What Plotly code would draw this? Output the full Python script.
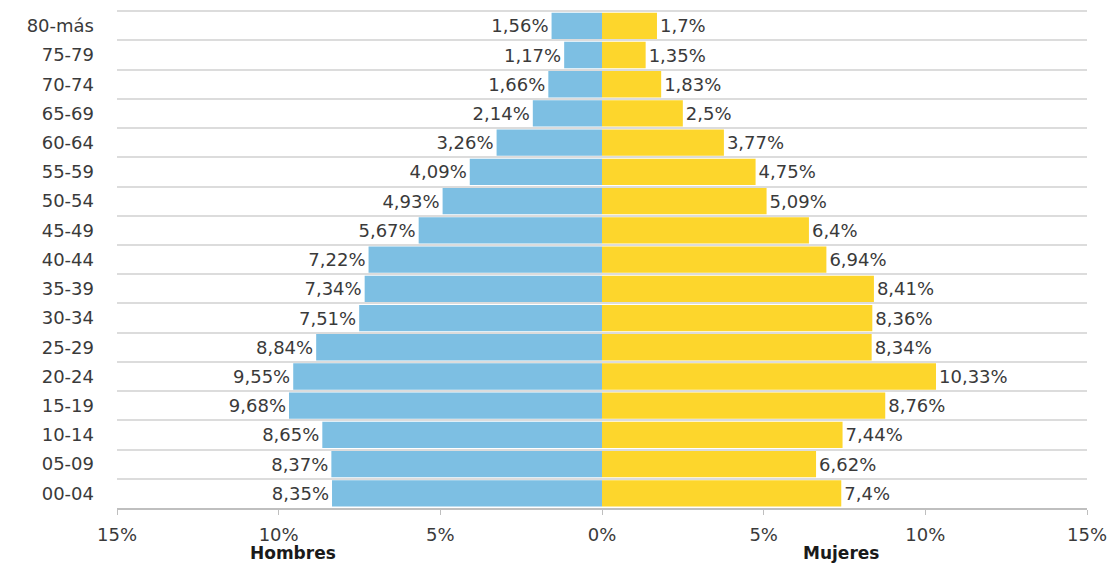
import plotly.graph_objects as go

categories = ["00-04", "05-09", "10-14", "15-19", "20-24", "25-29", "30-34", "35-39",
              "40-44", "45-49", "50-54", "55-59", "60-64", "65-69", "70-74", "75-79", "80-más"]
hombres = [8.35, 8.37, 8.65, 9.68, 9.55, 8.84, 7.51, 7.34, 7.22, 5.67, 4.93, 4.09, 3.26, 2.14, 1.66, 1.17, 1.56]
mujeres = [7.4, 6.62, 7.44, 8.76, 10.33, 8.34, 8.36, 8.41, 6.94, 6.4, 5.09, 4.75, 3.77, 2.5, 1.83, 1.35, 1.7]
x_ticks = [-15, -10, -5, 0, 5, 10, 15]
x_tick_labels = ["15%", "10%", "5%", "0%", "5%", "10%", "15%"]


def fmt(v):
    return (("%g" % v).replace(".", ",")) + "%"


FONT = "DejaVu Sans, Verdana, sans-serif"
TXT = "#3a3a3a"
FS = 18

fig = go.Figure()
fig.add_trace(go.Bar(
    y=categories, x=[-v for v in hombres], orientation="h", name="Hombres",
    marker=dict(color="#7dbfe3", line=dict(width=0)),
    text=[fmt(v) for v in hombres], textposition="outside", cliponaxis=False,
    constraintext="none",
    textfont=dict(family=FONT, size=FS, color=TXT),
))
fig.add_trace(go.Bar(
    y=categories, x=mujeres, orientation="h", name="Mujeres",
    marker=dict(color="#fdd62c", line=dict(width=0)),
    text=[fmt(v) for v in mujeres], textposition="outside", cliponaxis=False,
    constraintext="none",
    textfont=dict(family=FONT, size=FS, color=TXT),
))

# page body has an 8px default margin: size the figure to compensate
fig.update_layout(
    width=1109, height=555,
    margin=dict(l=109, r=30, t=2, b=55),
    barmode="relative", bargap=0.1,
    showlegend=False,
    plot_bgcolor="white", paper_bgcolor="white",
    font=dict(family=FONT, size=FS, color=TXT),
    xaxis=dict(
        range=[-15, 15], tickvals=x_ticks, ticktext=x_tick_labels,
        showgrid=False, zeroline=False,
        showline=True, linecolor="#bfbfbf", linewidth=2,
        ticks="outside", ticklen=5, tickcolor="#bfbfbf", tickwidth=1,
        ticklabelstandoff=4,
        tickfont=dict(family=FONT, size=FS, color=TXT),
    ),
    yaxis=dict(
        type="category", categoryorder="array", categoryarray=categories,
        range=[-0.5, 16.54],
        tickson="boundaries", showgrid=True, gridcolor="#dcdcdc", gridwidth=2,
        ticks="", showline=False, zeroline=False,
        ticklabelstandoff=22,
        tickfont=dict(family=FONT, size=FS, color=TXT),
    ),
    annotations=[
        dict(text="<b>Hombres</b>", x=-9.55, xref="x", y=0, yref="paper",
             yanchor="middle", yshift=-45, showarrow=False,
             font=dict(family=FONT, size=17, color="#1a1a1a")),
        dict(text="<b>Mujeres</b>", x=7.4, xref="x", y=0, yref="paper",
             yanchor="middle", yshift=-45, showarrow=False,
             font=dict(family=FONT, size=17, color="#1a1a1a")),
    ],
)

fig.write_html("out.html")
